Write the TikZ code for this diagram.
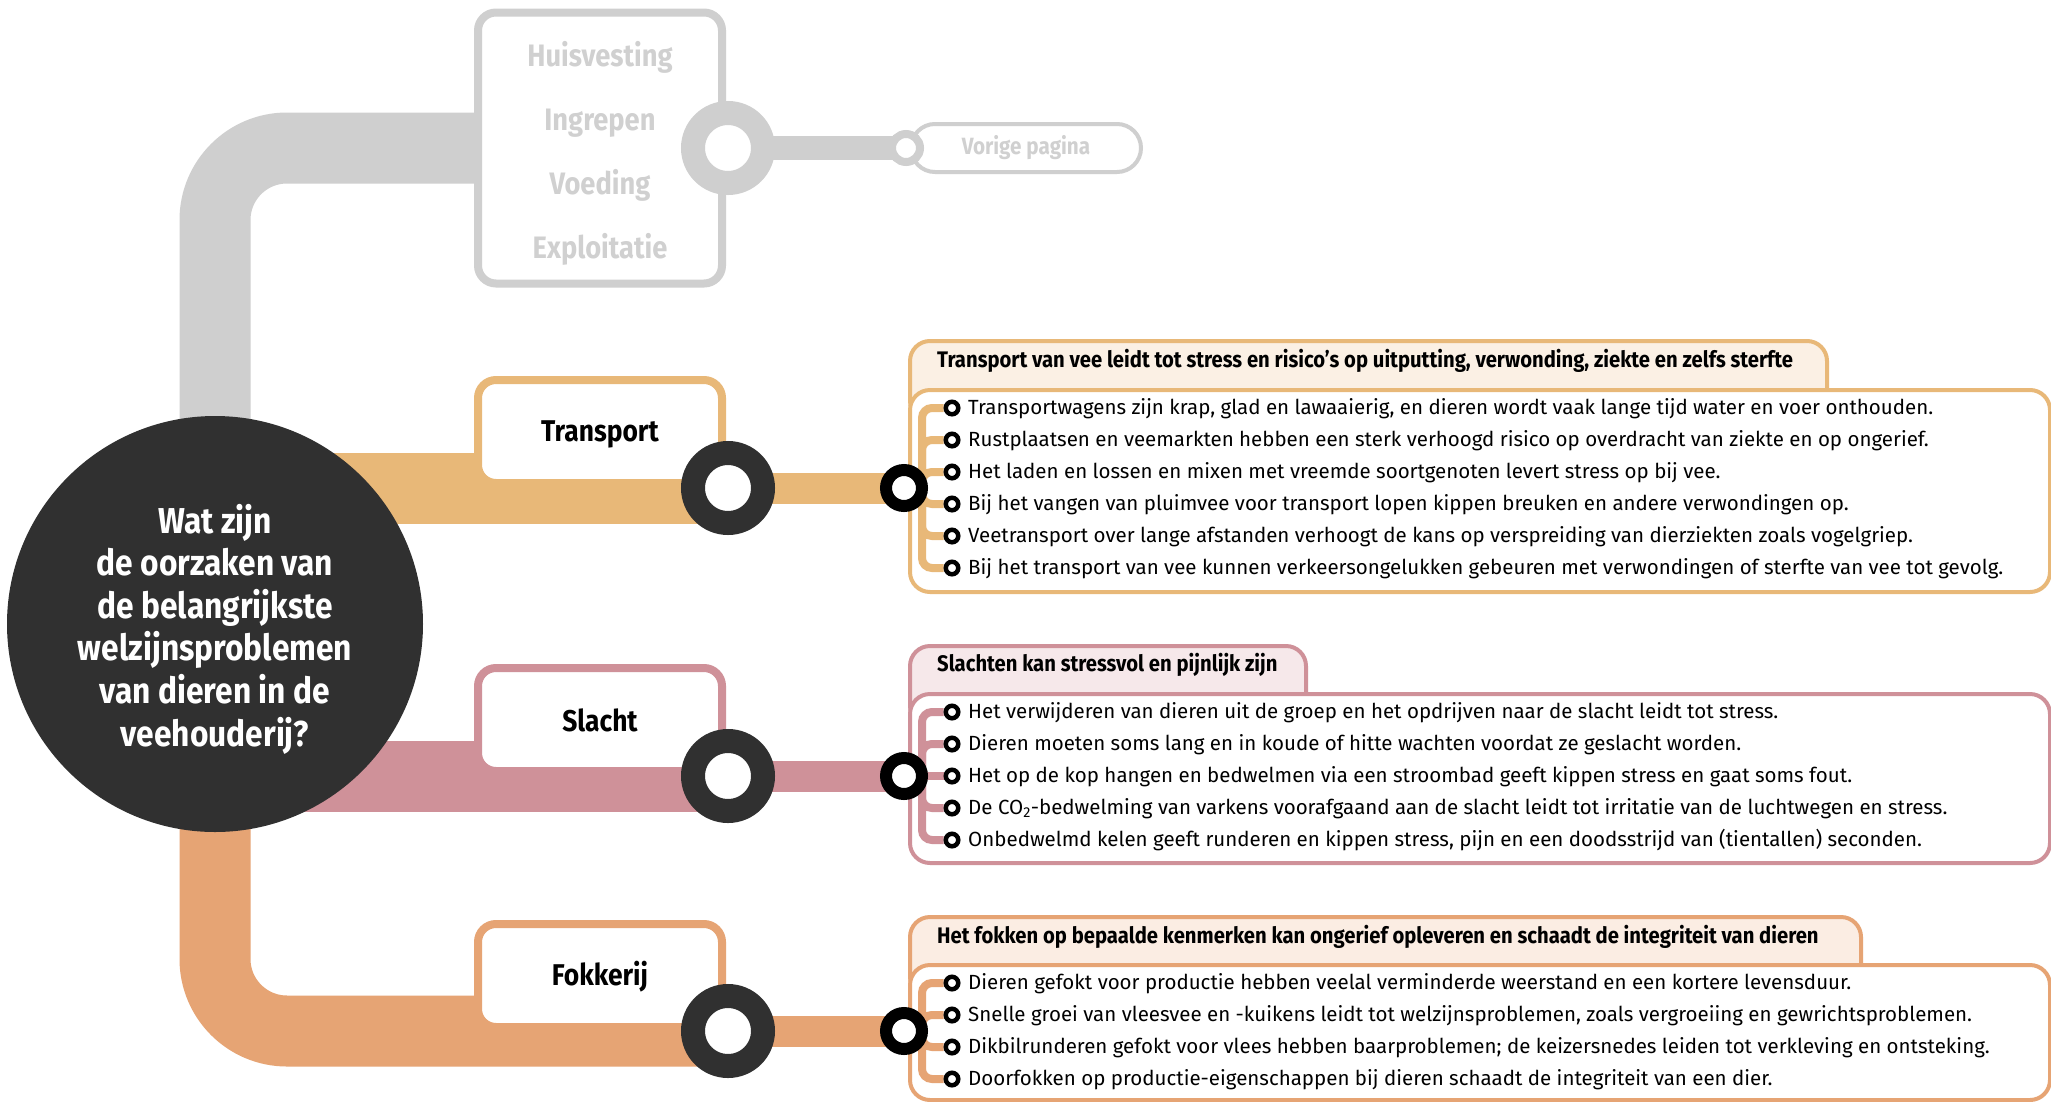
\documentclass[tikz,border=0pt]{standalone}
\usepackage{fontspec}
\setmainfont{Fira Sans}
\newfontfamily\cond{Fira Sans}[FakeStretch=0.88]
\newfontfamily\hdrf{Fira Sans}[FakeStretch=0.9]
\usetikzlibrary{calc}
\pgfdeclarelayer{pipes}
\pgfdeclarelayer{tree}
\pgfdeclarelayer{front}
\pgfsetlayers{pipes,main,tree,front}
\definecolor{greyc}{HTML}{CFCFCF}
\definecolor{greyt}{HTML}{D0D0D0}
\definecolor{darkc}{HTML}{303030}
\definecolor{tcol}{HTML}{E8B878}
\definecolor{scol}{HTML}{CF9199}
\definecolor{fcol}{HTML}{E6A474}
\definecolor{tfill}{HTML}{FBF0E4}
\definecolor{sfill}{HTML}{F6E8EA}
\definecolor{ffill}{HTML}{FBEDE3}
\begin{document}
\begin{tikzpicture}[x=1pt,y=-1pt,
  pipe/.style={line width=71pt},
  link/.style={line width=31pt},
  tree/.style={line width=8pt, rounded corners=10pt},
  secbox/.style={draw=#1, fill=white, line width=8pt, rounded corners=18pt,
    minimum width=244pt, minimum height=103pt, inner sep=0pt},
  seclabel/.style={inner sep=0pt, font={\cond\bfseries\fontsize{30}{34}\selectfont}},
  bigring/.style={circle, draw=#1, line width=24pt, fill=white, minimum size=70pt, inner sep=0pt},
  smallring/.style={circle, draw=black, line width=12pt, fill=white, minimum size=36pt, inner sep=0pt},
  greysmall/.style={circle, draw=greyc, line width=8pt, fill=white, minimum size=28pt, inner sep=0pt},
  bullet/.style={circle, draw=black, line width=4.5pt, fill=white, minimum size=12.5pt, inner sep=0pt},
  tab/.style={draw=#1, line width=4pt, rounded corners=20pt, anchor=north west, inner sep=0pt},
  body/.style={draw=#1, fill=white, line width=4pt, rounded corners=20pt, anchor=north west,
    inner sep=0pt, minimum width=1140pt},
  hdr/.style={anchor=mid west, inner sep=0pt, font={\hdrf\bfseries\fontsize{22.5}{26}\selectfont}},
  item/.style={anchor=mid west, inner sep=0pt, font={\fontsize{20.5}{24}\selectfont}}
]
\useasboundingbox (0,0) rectangle (2051,1101);

% ---------- left part ----------
\node[secbox=greyc, minimum height=271pt] (bG) at (600,148) {};
\node[text=greyt, align=center, inner sep=0pt,
  font={\cond\bfseries\fontsize{31}{64}\selectfont}] (lG) at (600,153)
  {Huisvesting\\Ingrepen\\Voeding\\Exploitatie};
\node[secbox=tcol] (bT) at (600,431.5) {};
\node[seclabel] (lT) at (600,434) {Transport};
\node[secbox=scol] (bS) at (600,719.5) {};
\node[seclabel] (lS) at (600,720) {Slacht};
\node[secbox=fcol] (bF) at (600,975.5) {};
\node[seclabel] (lF) at (600,977) {Fokkerij};

\node[bigring=greyc] (rG) at (728,148) {};
\node[bigring=darkc] (rT) at (728,488) {};
\node[bigring=darkc] (rS) at (728,776) {};
\node[bigring=darkc] (rF) at (728,1031) {};

\node[circle, fill=darkc, minimum size=416pt, inner sep=0pt] (Q) at (215,624) {};
\node[text=white, align=center, inner sep=0pt,
  font={\cond\bfseries\fontsize{36}{42.6}\selectfont}] (Qt) at (215,629)
  {Wat zijn\\de oorzaken van\\de belangrijkste\\welzijnsproblemen\\van dieren in de\\veehouderij?};

\node[draw=greyc, line width=4pt, fill=white, rounded corners=24pt, minimum width=230pt,
  minimum height=48pt, inner sep=0pt, text=greyt,
  font={\cond\bfseries\fontsize{23.5}{27}\selectfont}] (vp) at (1026,148) {Vorige pagina};

\begin{pgfonlayer}{front}
\node[greysmall] (sG) at (906,148) {};
\node[smallring] (sT) at (904,488) {};
\node[smallring] (sS) at (904,776) {};
\node[smallring] (sF) at (904,1031) {};
\end{pgfonlayer}

\begin{pgfonlayer}{pipes}
\fill[white] (0,0) rectangle (2051,1101);
\draw[pipe, greyc, rounded corners=72pt] (Q.center) |- (rG.center);
\draw[pipe, tcol] (Q.center |- rT.center) -- (rT.center);
\draw[pipe, scol] (Q.center |- rS.center) -- (rS.center);
\draw[pipe, fcol, rounded corners=72pt] (Q.center) |- (rF.center);
\draw[line width=24pt, greyc] (rG.center) -- (sG.center);
\draw[link, tcol] (rT.center) -- (sT.center);
\draw[link, scol] (rS.center) -- (sS.center);
\draw[link, fcol] (rF.center) -- (sF.center);
\end{pgfonlayer}

% ---------- Transport panel ----------
\node[tab=tcol, fill=tfill, minimum width=917pt, minimum height=80pt] (tabT) at (908,339) {};
\node[body=tcol, minimum height=202pt] (bodyT) at (908,388) {};
\node[hdr] (hT) at (937,365) {Transport van vee leidt tot stress en risico’s op uitputting, verwonding, ziekte en zelfs sterfte};
\coordinate (cT) at (922,488);
\foreach \t [count=\i] in {
  {Transportwagens zijn krap, glad en lawaaierig, en dieren wordt vaak lange tijd water en voer onthouden.},
  {Rustplaatsen en veemarkten hebben een sterk verhoogd risico op overdracht van ziekte en op ongerief.},
  {Het laden en lossen en mixen met vreemde soortgenoten levert stress op bij vee.},
  {Bij het vangen van pluimvee voor transport lopen kippen breuken en andere verwondingen op.},
  {Veetransport over lange afstanden verhoogt de kans op verspreiding van dierziekten zoals vogelgriep.},
  {Bij het transport van vee kunnen verkeersongelukken gebeuren met verwondingen of sterfte van vee tot gevolg.}}
  {\node[item] (xT\i) at (968,{488+(\i-3.5)*32+4}) {\t};}
\begin{pgfonlayer}{front}
\foreach \i in {1,...,6} {\node[bullet] (iT\i) at (952,{488+(\i-3.5)*32}) {};}
\end{pgfonlayer}
\begin{pgfonlayer}{tree}
\foreach \i in {1,...,6} {\draw[tree, tcol] (sT.center) -- (cT) |- (iT\i);}
\end{pgfonlayer}

% ---------- Slacht panel ----------
\node[tab=scol, fill=sfill, minimum width=396pt, minimum height=80pt] (tabS) at (908,644) {};
\node[body=scol, minimum height=169pt] (bodyS) at (908,692) {};
\node[hdr] (hS) at (937,669) {Slachten kan stressvol en pijnlijk zijn};
\coordinate (cS) at (922,776);
\foreach \t [count=\i] in {
  {Het verwijderen van dieren uit de groep en het opdrijven naar de slacht leidt tot stress.},
  {Dieren moeten soms lang en in koude of hitte wachten voordat ze geslacht worden.},
  {Het op de kop hangen en bedwelmen via een stroombad geeft kippen stress en gaat soms fout.},
  {De CO\textsubscript{2}-bedwelming van varkens voorafgaand aan de slacht leidt tot irritatie van de luchtwegen en stress.},
  {Onbedwelmd kelen geeft runderen en kippen stress, pijn en een doodsstrijd van (tientallen) seconden.}}
  {\node[item] (xS\i) at (968,{776+(\i-3)*32+4}) {\t};}
\begin{pgfonlayer}{front}
\foreach \i in {1,...,5} {\node[bullet] (iS\i) at (952,{776+(\i-3)*32}) {};}
\end{pgfonlayer}
\begin{pgfonlayer}{tree}
\foreach \i in {1,2,4,5} {\draw[tree, scol] (sS.center) -- (cS) |- (iS\i);}
\draw[tree, scol] (sS.center) -- (iS3);
\end{pgfonlayer}

% ---------- Fokkerij panel ----------
\node[tab=fcol, fill=ffill, minimum width=951pt, minimum height=80pt] (tabF) at (908,915) {};
\node[body=fcol, minimum height=135pt] (bodyF) at (908,963) {};
\node[hdr] (hF) at (937,941) {Het fokken op bepaalde kenmerken kan ongerief opleveren en schaadt de integriteit van dieren};
\coordinate (cF) at (922,1031);
\foreach \t [count=\i] in {
  {Dieren gefokt voor productie hebben veelal verminderde weerstand en een kortere levensduur.},
  {Snelle groei van vleesvee en -kuikens leidt tot welzijnsproblemen, zoals vergroeiing en gewrichtsproblemen.},
  {Dikbilrunderen gefokt voor vlees hebben baarproblemen; de keizersnedes leiden tot verkleving en ontsteking.},
  {Doorfokken op productie-eigenschappen bij dieren schaadt de integriteit van een dier.}}
  {\node[item] (xF\i) at (968,{1031+(\i-2.5)*32+4}) {\t};}
\begin{pgfonlayer}{front}
\foreach \i in {1,...,4} {\node[bullet] (iF\i) at (952,{1031+(\i-2.5)*32}) {};}
\end{pgfonlayer}
\begin{pgfonlayer}{tree}
\foreach \i in {1,...,4} {\draw[tree, fcol] (sF.center) -- (cF) |- (iF\i);}
\end{pgfonlayer}
\end{tikzpicture}
\end{document}
